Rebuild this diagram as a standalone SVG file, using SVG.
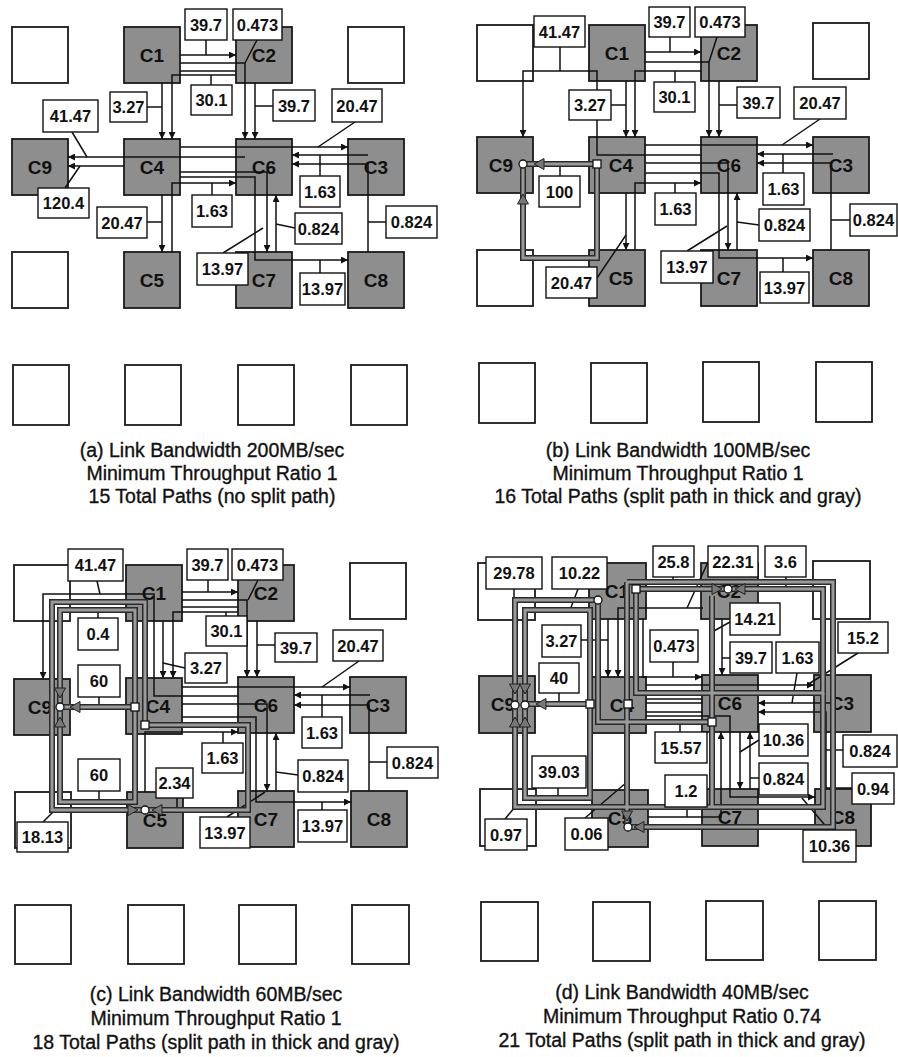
<svg xmlns="http://www.w3.org/2000/svg" xmlns:xlink="http://www.w3.org/1999/xlink" width="898" height="1057" viewBox="0 0 898 1057">
<style>
.n rect{fill:#8e8e8e;stroke:#1a1a1a;stroke-width:1.8}
.e rect{fill:#fff;stroke:#1a1a1a;stroke-width:1.8}
.n text{font:bold 19px "Liberation Sans",Arial,sans-serif;text-anchor:middle;fill:#111}
.w path{fill:none;stroke:#111;stroke-width:1.5}
.w path.a{marker-end:url(#ah)}
.lb rect{fill:#fff;stroke:#111;stroke-width:1.4}
.lb text{font:bold 16.5px "Liberation Sans",Arial,sans-serif;text-anchor:middle;fill:#111}
.tko{fill:none;stroke:#2a2a2a;stroke-width:6}
.tki{fill:none;stroke:#9a9a9a;stroke-width:3}
.cap{font:19.5px "Liberation Sans",Arial,sans-serif;text-anchor:middle;fill:#111;stroke:#111;stroke-width:0.35}
</style>
<defs>
<marker id="ah" viewBox="0 0 10 10" refX="10" refY="5" markerWidth="8" markerHeight="7" markerUnits="userSpaceOnUse" orient="auto"><path d="M0,0L10,5L0,10z" fill="#111"/></marker>
<path id="gar" d="M0,0L-10,-5.5L-10,5.5z" fill="#777" stroke="#222" stroke-width="1"/>
<rect id="sq" x="-4" y="-4" width="8" height="8" fill="#fff" stroke="#111" stroke-width="1.3"/>
<circle id="ci" r="4" fill="#fff" stroke="#111" stroke-width="1.3"/>
<path id="tb1" d="M132,166H58"/>
<path id="tb2" d="M132,166V260H58V166"/>
<path id="tc1" d="M133,169H58"/>
<path id="tc2" d="M133,169V72H58V169"/>
<path id="tc3" d="M133,169V264H58V169"/>
<path id="tc4" d="M143,187V64H50V272H143"/>
<path id="tc5" d="M143,187H246V272H143"/>
<path id="td1" d="M123,168H58"/>
<path id="td2" d="M123,168V74H58V169"/>
<path id="td3" d="M123,168V262H58V169"/>
<path id="td4" d="M245,186H131V64H48V169"/>
<path id="td5" d="M356,157V271H48V169"/>
<path id="td6" d="M169,53H261"/>
<path id="td7" d="M169,53V157H356V53H261"/>
<path id="td8" d="M160,46H366V291H161"/>
<path id="td9" d="M160,46V291"/>
<path id="td10" d="M245,60V271"/>
</defs>
<rect width="898" height="1057" fill="#fff"/>

<!-- Panel A -->
<g id="panel-a">
<g id="a-e1" class="e"><rect x="12" y="27" width="56" height="56"/></g>
<g id="a-C1" class="n"><rect x="124" y="27" width="56" height="56"/><text x="152" y="62">C1</text></g>
<g id="a-C2" class="n"><rect x="236" y="27" width="56" height="56"/><text x="264" y="62">C2</text></g>
<g id="a-e2" class="e"><rect x="348" y="27" width="56" height="56"/></g>
<g id="a-C9" class="n"><rect x="12" y="139" width="56" height="56"/><text x="40" y="174">C9</text></g>
<g id="a-C4" class="n"><rect x="124" y="139" width="56" height="56"/><text x="152" y="174">C4</text></g>
<g id="a-C6" class="n"><rect x="236" y="139" width="56" height="56"/><text x="264" y="174">C6</text></g>
<g id="a-C3" class="n"><rect x="348" y="139" width="56" height="56"/><text x="376" y="174">C3</text></g>
<g id="a-e3" class="e"><rect x="12" y="252" width="56" height="56"/></g>
<g id="a-C5" class="n"><rect x="124" y="252" width="56" height="56"/><text x="152" y="287">C5</text></g>
<g id="a-C7" class="n"><rect x="236" y="252" width="56" height="56"/><text x="264" y="287">C7</text></g>
<g id="a-C8" class="n"><rect x="348" y="252" width="56" height="56"/><text x="376" y="287">C8</text></g>
<g id="a-e4" class="e"><rect x="13" y="365" width="56" height="60"/></g>
<g id="a-e5" class="e"><rect x="125" y="365" width="56" height="60"/></g>
<g id="a-e6" class="e"><rect x="238" y="365" width="56" height="60"/></g>
<g id="a-e7" class="e"><rect x="351" y="365" width="56" height="60"/></g>
<g id="a-edges" class="w">
<path class="a" d="M180,55H236"/><path class="a" d="M180,63H245V139"/><path d="M180,71H236"/>
<path class="a" d="M236,75H172V139"/><path class="a" d="M162,83V139"/><path class="a" d="M255,83V139"/>
<path class="a" d="M180,147H348"/><path class="a" d="M245,157H68"/><path class="a" d="M124,166H68"/>
<path class="a" d="M368,155H292"/><path class="a" d="M368,252V164H292"/>
<path class="a" d="M180,172H267V252"/><path class="a" d="M180,177H255V260H348"/>
<path class="a" d="M172,252V183H236"/><path class="a" d="M162,195V252"/><path class="a" d="M276,252V195"/>
<path d="M206,40V55M257,40L245,63M211,85V75M147,107H162M273,106H255M355,122L318,147M72,132L87,157M65,188L80,166M320,176V155M386,222H368M212,195V183M147,222H162M295,228L276,224M223,253L263,228M320,273V260"/>
</g>
<g id="a-labels" class="lb">
<rect x="185" y="9" width="42" height="31"/><text x="206" y="30.5">39.7</text>
<rect x="233" y="9" width="49" height="31"/><text x="257.5" y="30.5">0.473</text>
<rect x="191" y="85" width="41" height="30"/><text x="211.5" y="106">30.1</text>
<rect x="110" y="92" width="37" height="30"/><text x="128.5" y="113">3.27</text>
<rect x="273" y="90" width="42" height="31"/><text x="294" y="111.5">39.7</text>
<rect x="332" y="89" width="50" height="33"/><text x="357" y="111.5">20.47</text>
<rect x="43" y="100" width="55" height="32"/><text x="70.5" y="122">41.47</text>
<rect x="38" y="188" width="51" height="30"/><text x="63.5" y="209">120.4</text>
<rect x="300" y="176" width="40" height="31"/><text x="320" y="197.5">1.63</text>
<rect x="192" y="195" width="40" height="32"/><text x="212" y="217">1.63</text>
<rect x="97" y="207" width="50" height="31"/><text x="122" y="228.5">20.47</text>
<rect x="295" y="213" width="47" height="31"/><text x="318.5" y="234.5">0.824</text>
<rect x="386" y="206" width="51" height="32"/><text x="411.5" y="228">0.824</text>
<rect x="197" y="253" width="51" height="32"/><text x="222.5" y="275">13.97</text>
<rect x="300" y="273" width="45" height="32"/><text x="322.5" y="295">13.97</text>
</g>
</g>

<!-- Panel B -->
<g id="panel-b" transform="translate(465,-2)">
<g id="b-e1" class="e"><rect x="12" y="27" width="56" height="56"/></g>
<g id="b-C1" class="n"><rect x="124" y="27" width="56" height="56"/><text x="152" y="62">C1</text></g>
<g id="b-C2" class="n"><rect x="236" y="27" width="56" height="56"/><text x="264" y="62">C2</text></g>
<g id="b-e2" class="e"><rect x="348" y="25" width="56" height="56"/></g>
<g id="b-C9" class="n"><rect x="12" y="139" width="56" height="56"/><text x="36" y="174">C9</text></g>
<g id="b-C4" class="n"><rect x="124" y="139" width="56" height="56"/><text x="156" y="174">C4</text></g>
<g id="b-C6" class="n"><rect x="236" y="139" width="56" height="56"/><text x="264" y="174">C6</text></g>
<g id="b-C3" class="n"><rect x="348" y="139" width="56" height="56"/><text x="376" y="174">C3</text></g>
<g id="b-e3" class="e"><rect x="12" y="252" width="56" height="56"/></g>
<g id="b-C5" class="n"><rect x="124" y="252" width="56" height="56"/><text x="156" y="287">C5</text></g>
<g id="b-C7" class="n"><rect x="236" y="252" width="56" height="56"/><text x="264" y="287">C7</text></g>
<g id="b-C8" class="n"><rect x="348" y="252" width="56" height="56"/><text x="376" y="287">C8</text></g>
<g id="b-e4" class="e"><rect x="14" y="365" width="56" height="60"/></g>
<g id="b-e5" class="e"><rect x="126" y="365" width="56" height="60"/></g>
<g id="b-e6" class="e"><rect x="238" y="364" width="56" height="60"/></g>
<g id="b-e7" class="e"><rect x="351" y="364" width="56" height="60"/></g>
<g id="b-edges" class="w">
<path class="a" d="M180,54H236"/><path class="a" d="M180,64H244V139"/><path class="a" d="M236,73H170V139"/>
<path class="a" d="M161,83V139"/><path class="a" d="M254,83V139"/>
<path class="a" d="M236,157H132V73H58V139"/><path class="a" d="M180,147H348"/>
<path class="a" d="M368,156H292"/><path class="a" d="M366,252V165H292"/>
<path class="a" d="M180,165H263V252"/><path class="a" d="M180,175H254V260H348"/>
<path class="a" d="M170,252V185H236"/><path class="a" d="M161,195V252"/><path class="a" d="M272,252V195"/>
<path d="M95,49V73M205,39V54M252,39L244,64M210,84V73M146,107H161M272,107H254M355,121L317,147M318,175V156M385,222H366M95,178V168M294,227L272,224M222,253L262,228M318,274V260M132,280L161,237M210,195V185"/>
</g>
<g id="b-split">
<use href="#tb1" class="tko"/><use href="#tb2" class="tko"/>
<use href="#tb1" class="tki"/><use href="#tb2" class="tki"/>
<use href="#gar" transform="translate(69,166) rotate(180)"/>
<use href="#gar" transform="translate(58,196) rotate(270)"/>
<use href="#sq" x="132" y="166"/><use href="#ci" x="58" y="166"/>
</g>
<g id="b-labels" class="lb">
<rect x="69" y="18" width="51" height="31"/><text x="94.5" y="39.5">41.47</text>
<rect x="184" y="9" width="41" height="30"/><text x="204.5" y="30">39.7</text>
<rect x="230" y="9" width="50" height="30"/><text x="255" y="30">0.473</text>
<rect x="189" y="84" width="41" height="30"/><text x="209.5" y="105">30.1</text>
<rect x="104" y="92" width="42" height="30"/><text x="125" y="113">3.27</text>
<rect x="272" y="89" width="43" height="31"/><text x="293.5" y="110.5">39.7</text>
<rect x="329" y="89" width="52" height="32"/><text x="355" y="111">20.47</text>
<rect x="298" y="175" width="41" height="32"/><text x="318.5" y="197">1.63</text>
<rect x="385" y="206" width="47" height="32"/><text x="408.5" y="228">0.824</text>
<rect x="74" y="178" width="41" height="31"/><text x="94.5" y="199.5">100</text>
<rect x="190" y="195" width="41" height="32"/><text x="210.5" y="217">1.63</text>
<rect x="294" y="211" width="51" height="32"/><text x="319.5" y="233">0.824</text>
<rect x="196" y="253" width="52" height="32"/><text x="222" y="275">13.97</text>
<rect x="295" y="274" width="49" height="31"/><text x="319.5" y="295.5">13.97</text>
<rect x="81" y="269" width="51" height="31"/><text x="106.5" y="290.5">20.47</text>
</g>
</g>

<!-- Panel C -->
<g id="panel-c" transform="translate(2,538)">
<g id="c-e1" class="e"><rect x="12" y="27" width="56" height="56"/></g>
<g id="c-C1" class="n"><rect x="124" y="27" width="56" height="56"/><text x="152" y="62">C1</text></g>
<g id="c-C2" class="n"><rect x="236" y="27" width="56" height="56"/><text x="264" y="62">C2</text></g>
<g id="c-e2" class="e"><rect x="348" y="25" width="56" height="56"/></g>
<g id="c-C9" class="n"><rect x="12" y="141" width="56" height="56"/><text x="38" y="176">C9</text></g>
<g id="c-C4" class="n"><rect x="124" y="140" width="56" height="56"/><text x="156" y="175">C4</text></g>
<g id="c-C6" class="n"><rect x="236" y="139" width="56" height="56"/><text x="264" y="174">C6</text></g>
<g id="c-C3" class="n"><rect x="348" y="139" width="56" height="56"/><text x="376" y="174">C3</text></g>
<g id="c-e3" class="e"><rect x="13" y="254" width="56" height="56"/></g>
<g id="c-C5" class="n"><rect x="125" y="254" width="56" height="56"/><text x="153" y="289">C5</text></g>
<g id="c-C7" class="n"><rect x="236" y="253" width="56" height="56"/><text x="264" y="288">C7</text></g>
<g id="c-C8" class="n"><rect x="349" y="253" width="56" height="56"/><text x="377" y="288">C8</text></g>
<g id="c-e4" class="e"><rect x="13" y="367" width="56" height="59"/></g>
<g id="c-e5" class="e"><rect x="126" y="367" width="56" height="59"/></g>
<g id="c-e6" class="e"><rect x="237" y="367" width="57" height="59"/></g>
<g id="c-e7" class="e"><rect x="350" y="367" width="57" height="59"/></g>
<g id="c-edges" class="w">
<path class="a" d="M180,54H236"/><path class="a" d="M180,62H245V139"/><path d="M180,69H236"/>
<path class="a" d="M236,74H171V140"/><path class="a" d="M161,83V140"/><path class="a" d="M255,83V139"/>
<path class="a" d="M236,158H152V56H41V141"/><path class="a" d="M180,149H348"/>
<path class="a" d="M368,157H292"/><path class="a" d="M367,253V167H292"/>
<path class="a" d="M180,166H265V253"/><path class="a" d="M180,179H254V264H349"/>
<path class="a" d="M143,254V194H236"/><path class="a" d="M274,253V195"/>
<path d="M95,43L98,56M96,80V72M206,42V54M256,42L246,62M224,78V74M183,130L161,125M273,107H255M357,123L320,149M320,179V157M385,224H367M97,159V169M97,253V264M221,205V194M296,237L274,234M175,260V272M225,279L263,254M320,272V264M41,284L51,274"/>
</g>
<g id="c-split">
<use href="#tc1" class="tko"/><use href="#tc2" class="tko"/><use href="#tc3" class="tko"/><use href="#tc4" class="tko"/><use href="#tc5" class="tko"/>
<use href="#tc1" class="tki"/><use href="#tc2" class="tki"/><use href="#tc3" class="tki"/><use href="#tc4" class="tki"/><use href="#tc5" class="tki"/>
<use href="#gar" transform="translate(68,169) rotate(180)"/>
<use href="#gar" transform="translate(58,160) rotate(90)"/>
<use href="#gar" transform="translate(58,179) rotate(270)"/>
<use href="#gar" transform="translate(136,272) rotate(0)"/>
<use href="#gar" transform="translate(150,272) rotate(180)"/>
<use href="#sq" x="133" y="169"/><use href="#sq" x="143" y="187"/>
<use href="#ci" x="58" y="169"/><use href="#ci" x="143" y="272"/>
</g>
<g id="c-labels" class="lb">
<rect x="66" y="11" width="55" height="32"/><text x="93.5" y="33">41.47</text>
<rect x="76" y="80" width="40" height="32"/><text x="96" y="102">0.4</text>
<rect x="185" y="11" width="41" height="31"/><text x="205.5" y="32.5">39.7</text>
<rect x="230" y="11" width="51" height="31"/><text x="255.5" y="32.5">0.473</text>
<rect x="204" y="78" width="41" height="30"/><text x="224.5" y="99">30.1</text>
<rect x="183" y="115" width="42" height="30"/><text x="204" y="136">3.27</text>
<rect x="273" y="95" width="42" height="29"/><text x="294" y="115.5">39.7</text>
<rect x="331" y="92" width="50" height="31"/><text x="356" y="113.5">20.47</text>
<rect x="300" y="179" width="40" height="31"/><text x="320" y="200.5">1.63</text>
<rect x="385" y="209" width="51" height="31"/><text x="410.5" y="230.5">0.824</text>
<rect x="76" y="127" width="42" height="32"/><text x="97" y="149">60</text>
<rect x="76" y="221" width="42" height="32"/><text x="97" y="243">60</text>
<rect x="154" y="230" width="37" height="30"/><text x="172.5" y="251">2.34</text>
<rect x="200" y="205" width="41" height="30"/><text x="220.5" y="226">1.63</text>
<rect x="296" y="222" width="50" height="32"/><text x="321" y="244">0.824</text>
<rect x="198" y="279" width="50" height="31"/><text x="223" y="300.5">13.97</text>
<rect x="296" y="272" width="49" height="32"/><text x="320.5" y="294">13.97</text>
<rect x="15" y="284" width="51" height="30"/><text x="40.5" y="305">18.13</text>
</g>
</g>

<!-- Panel D -->
<g id="panel-d" transform="translate(467,536)">
<g id="d-e1" class="e"><rect x="11" y="27" width="57" height="57"/></g>
<g id="d-C1" class="n"><rect x="122" y="27" width="57" height="56"/><text x="150" y="62">C1</text></g>
<g id="d-C2" class="n"><rect x="234" y="27" width="57" height="56"/><text x="262" y="62">C2</text></g>
<g id="d-e2" class="e"><rect x="346" y="25" width="57" height="58"/></g>
<g id="d-C9" class="n"><rect x="12" y="140" width="56" height="57"/><text x="36" y="175">C9</text></g>
<g id="d-C4" class="n"><rect x="123" y="141" width="56" height="56"/><text x="155" y="176">C4</text></g>
<g id="d-C6" class="n"><rect x="235" y="139" width="56" height="57"/><text x="263" y="174">C6</text></g>
<g id="d-C3" class="n"><rect x="347" y="139" width="57" height="57"/><text x="375" y="174">C3</text></g>
<g id="d-e3" class="e"><rect x="13" y="253" width="56" height="57"/></g>
<g id="d-C5" class="n"><rect x="125" y="254" width="56" height="57"/><text x="153" y="289">C5</text></g>
<g id="d-C7" class="n"><rect x="235" y="253" width="56" height="57"/><text x="263" y="288">C7</text></g>
<g id="d-C8" class="n"><rect x="348" y="253" width="56" height="57"/><text x="376" y="288">C8</text></g>
<g id="d-e4" class="e"><rect x="14" y="366" width="57" height="59"/></g>
<g id="d-e5" class="e"><rect x="126" y="366" width="57" height="59"/></g>
<g id="d-e6" class="e"><rect x="239" y="365" width="57" height="59"/></g>
<g id="d-e7" class="e"><rect x="352" y="365" width="57" height="59"/></g>
<g id="d-edges" class="w">
<path class="a" d="M141,83V141"/><path class="a" d="M236,72H151V141"/><path class="a" d="M176,83V141H235"/>
<path class="a" d="M255,83V139"/><path class="a" d="M179,149H347"/>
<path class="a" d="M368,167H291"/><path class="a" d="M359,253V176H291"/>
<path d="M179,163H235M179,167H235M179,176H235"/>
<path class="a" d="M181,281H254V196"/><path d="M181,273H236"/>
<path class="a" d="M283,253V196"/><path class="a" d="M273,196V253"/>
<path class="a" d="M179,180H263V261H348"/>
<path d="M47,53V64M111,53L103,74M206,41V46M241,26L220,72M319,41V53M263,86L245,96M391,117L340,149M114,104H141M206,126V141M263,122H255M330,137L325,167M92,157V168M213,196V186M292,204L273,216M376,214H359M292,242H283M91,252V262M220,271V281M385,252H356M38,283L48,271M118,282L160,246M362,294L335,262"/>
</g>
<g id="d-split">
<use href="#td1" class="tko"/><use href="#td2" class="tko"/><use href="#td3" class="tko"/><use href="#td4" class="tko"/><use href="#td5" class="tko"/><use href="#td6" class="tko"/><use href="#td7" class="tko"/><use href="#td8" class="tko"/><use href="#td9" class="tko"/><use href="#td10" class="tko"/>
<use href="#td1" class="tki"/><use href="#td2" class="tki"/><use href="#td3" class="tki"/><use href="#td4" class="tki"/><use href="#td5" class="tki"/><use href="#td6" class="tki"/><use href="#td7" class="tki"/><use href="#td8" class="tki"/><use href="#td9" class="tki"/><use href="#td10" class="tki"/>
<use href="#gar" transform="translate(69,168) rotate(180)"/>
<use href="#gar" transform="translate(48,158) rotate(90)"/>
<use href="#gar" transform="translate(58,158) rotate(90)"/>
<use href="#gar" transform="translate(48,181) rotate(270)"/>
<use href="#gar" transform="translate(58,181) rotate(270)"/>
<use href="#gar" transform="translate(255,53) rotate(0)"/>
<use href="#gar" transform="translate(268,53) rotate(180)"/>
<use href="#gar" transform="translate(167,291) rotate(180)"/>
<use href="#gar" transform="translate(160,285) rotate(90)"/>
<use href="#sq" x="169" y="53"/><use href="#sq" x="123" y="168"/><use href="#sq" x="161" y="168"/><use href="#sq" x="245" y="186"/>
<use href="#ci" x="131" y="64"/><use href="#ci" x="261" y="53"/><use href="#ci" x="48" y="169"/><use href="#ci" x="58" y="169"/><use href="#ci" x="161" y="291"/>
</g>
<g id="d-labels" class="lb">
<rect x="19" y="21" width="56" height="32"/><text x="47" y="43">29.78</text>
<rect x="85" y="21" width="55" height="32"/><text x="112.5" y="43">10.22</text>
<rect x="186" y="10" width="41" height="31"/><text x="206.5" y="31.5">25.8</text>
<rect x="241" y="10" width="50" height="31"/><text x="266" y="31.5">22.31</text>
<rect x="298" y="10" width="41" height="31"/><text x="318.5" y="31.5">3.6</text>
<rect x="263" y="67" width="50" height="32"/><text x="288" y="89">14.21</text>
<rect x="371" y="86" width="50" height="31"/><text x="396" y="107.5">15.2</text>
<rect x="75" y="89" width="39" height="32"/><text x="94.5" y="111">3.27</text>
<rect x="183" y="94" width="48" height="32"/><text x="207" y="116">0.473</text>
<rect x="263" y="106" width="42" height="31"/><text x="284" y="127.5">39.7</text>
<rect x="309" y="106" width="43" height="31"/><text x="330.5" y="127.5">1.63</text>
<rect x="72" y="127" width="40" height="30"/><text x="92" y="148">40</text>
<rect x="188" y="196" width="52" height="31"/><text x="214" y="217.5">15.57</text>
<rect x="292" y="188" width="49" height="32"/><text x="316.5" y="210">10.36</text>
<rect x="376" y="199" width="54" height="32"/><text x="403" y="221">0.824</text>
<rect x="292" y="227" width="49" height="32"/><text x="316.5" y="249">0.824</text>
<rect x="65" y="220" width="54" height="32"/><text x="92" y="242">39.03</text>
<rect x="198" y="239" width="42" height="32"/><text x="219" y="261">1.2</text>
<rect x="385" y="237" width="42" height="31"/><text x="406" y="258.5">0.94</text>
<rect x="18" y="283" width="42" height="31"/><text x="39" y="304.5">0.97</text>
<rect x="98" y="282" width="43" height="32"/><text x="119.5" y="304">0.06</text>
<rect x="336" y="294" width="53" height="32"/><text x="362.5" y="316">10.36</text>
</g>
</g>

<g id="captions">
<text class="cap" x="212" y="457">(a) Link Bandwidth 200MB/sec</text>
<text class="cap" x="212" y="480">Minimum Throughput Ratio 1</text>
<text class="cap" x="212" y="503">15 Total Paths (no split path)</text>
<text class="cap" x="678" y="457">(b) Link Bandwidth 100MB/sec</text>
<text class="cap" x="678" y="480">Minimum Throughput Ratio 1</text>
<text class="cap" x="678" y="503">16 Total Paths (split path in thick and gray)</text>
<text class="cap" x="216" y="1001">(c) Link Bandwidth 60MB/sec</text>
<text class="cap" x="216" y="1025">Minimum Throughput Ratio 1</text>
<text class="cap" x="216" y="1049">18 Total Paths (split path in thick and gray)</text>
<text class="cap" x="682" y="999">(d) Link Bandwidth 40MB/sec</text>
<text class="cap" x="682" y="1023">Minimum Throughput Ratio 0.74</text>
<text class="cap" x="682" y="1047">21 Total Paths (split path in thick and gray)</text>
</g>
</svg>
